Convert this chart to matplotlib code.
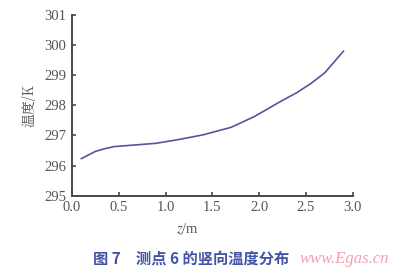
#!/usr/bin/env python3
"""Vertical temperature profile at measuring point 6."""

import matplotlib
matplotlib.use("Agg")
import matplotlib.pyplot as plt

# data
z_m = [0.1, 0.25, 0.35, 0.45, 0.7, 0.9, 1.15, 1.4, 1.7, 1.95, 2.2, 2.4, 2.55, 2.7, 2.9]
temp_k = [296.23, 296.47, 296.56, 296.63, 296.69, 296.74, 296.87, 297.02, 297.27,
          297.63, 298.08, 298.42, 298.72, 299.08, 299.8]
x_ticks = [0.0, 0.5, 1.0, 1.5, 2.0, 2.5, 3.0]
y_ticks = [295, 296, 297, 298, 299, 300, 301]

plt.rcParams["mathtext.fontset"] = "stix"

SERIF = ["Liberation Serif", "DejaVu Serif"]
CJK = ["Noto Sans CJK SC", "DejaVu Sans"]
SPINE = "#4a4a3c"
TEXT = "#555555"

fig = plt.figure(figsize=(4.0, 2.74), dpi=100)
ax = fig.add_axes([0.18, 0.286, 0.702, 0.659])

ax.plot(z_m, temp_k, color="#55559a", linewidth=1.2)

ax.set_xlim(0, 3.0)
ax.set_ylim(295, 301)
ax.set_xticks(x_ticks)
ax.set_yticks(y_ticks)
ax.set_xticklabels([f"{t:.1f}" for t in x_ticks], family=SERIF, fontsize=10.5, color=TEXT)
ax.set_yticklabels([str(t) for t in y_ticks], family=SERIF, fontsize=10.5, color=TEXT)
ax.tick_params(direction="in", length=3, width=1.2, color=SPINE, pad=4)

for side in ("top", "right"):
    ax.spines[side].set_visible(False)
for side in ("left", "bottom"):
    ax.spines[side].set_color(SPINE)
    ax.spines[side].set_linewidth(1.4)

ax.set_ylabel("温度/K", family=["Noto Serif CJK SC", "Noto Sans CJK SC", "DejaVu Sans"],
              fontsize=10, color=TEXT, labelpad=5)
fig.text(0.468, 0.162, "$z$/m", family=SERIF, fontsize=10.5, color=TEXT,
         ha="center", va="center")

fig.text(0.477, 0.058, "图 7　测点 6 的竖向温度分布", family=CJK, fontsize=11,
         color="#4454a4", ha="center", va="center", fontweight="bold")
fig.text(0.862, 0.055, "www.Egas.cn", family=SERIF, fontsize=12, color="#f0a0b0",
         ha="center", va="center", style="italic")

fig.savefig("out.png", dpi=100)
plt.close(fig)
